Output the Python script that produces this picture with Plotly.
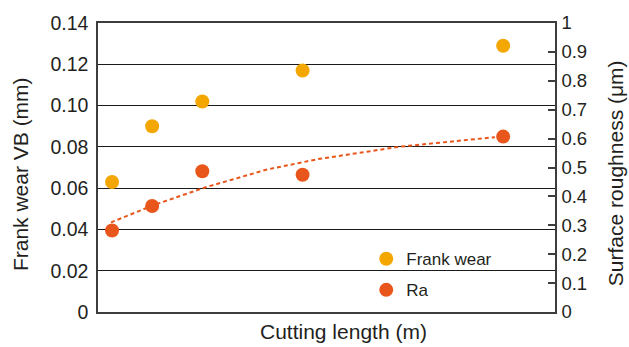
import plotly.graph_objects as go

# Data
cutting_length = [100, 500, 1000, 2000, 4000]
frank_wear = [0.063, 0.090, 0.102, 0.117, 0.129]
ra = [0.282, 0.367, 0.487, 0.475, 0.607]

trend_x = [90, 508, 1027, 1645, 2153, 2971, 3918]
trend_y = [0.310, 0.369, 0.431, 0.493, 0.529, 0.572, 0.605]

left_tickvals = [0, 0.02, 0.04, 0.06, 0.08, 0.10, 0.12, 0.14]
left_ticktext = ["0", "0.02", "0.04", "0.06", "0.08", "0.10", "0.12", "0.14"]
right_tickvals = [0, 0.1, 0.2, 0.3, 0.4, 0.5, 0.6, 0.7, 0.8, 0.9, 1]
right_ticktext = ["0", "0.1", "0.2", "0.3", "0.4", "0.5", "0.6", "0.7", "0.8", "0.9", "1"]

C_FW = "#F4A700"
C_RA = "#E9561B"
TXT = "#231F20"
FONT = "Liberation Sans, Arial, sans-serif"

fig = go.Figure()
fig.add_trace(go.Scatter(x=cutting_length, y=frank_wear, mode="markers",
                         name="Frank wear", legendgroup="a",
                         marker=dict(color=C_FW, size=14), yaxis="y"))
fig.add_trace(go.Scatter(x=trend_x, y=trend_y, mode="lines", showlegend=False,
                         line=dict(color=C_RA, width=2, dash="4px,3px", shape="linear"),
                         yaxis="y2"))
fig.add_trace(go.Scatter(x=cutting_length, y=ra, mode="markers",
                         name="Ra", legendgroup="b",
                         marker=dict(color=C_RA, size=14), yaxis="y2"))

fig.update_layout(
    width=629, height=347,
    margin=dict(l=98, r=74, t=15, b=35),
    paper_bgcolor="white", plot_bgcolor="white",
    font=dict(family=FONT, color=TXT, size=18),
    xaxis=dict(range=[-40, 4517], showticklabels=False, ticks="", showgrid=False,
               zeroline=False, showline=True, linecolor="#3d3d3d", linewidth=1.5,
               mirror=True),
    yaxis=dict(range=[0, 0.14], tickvals=left_tickvals, ticktext=left_ticktext,
               showgrid=True, gridcolor="#1a1a1a", gridwidth=1, zeroline=False,
               showline=True, linecolor="#3d3d3d", linewidth=1.5, ticks="",
               ticklabelstandoff=4, tickfont=dict(size=19.5)),
    yaxis2=dict(range=[0, 1], tickvals=right_tickvals, ticktext=right_ticktext,
                overlaying="y", side="right", showgrid=False, zeroline=False,
                showline=True, linecolor="#3d3d3d", linewidth=1.5,
                ticks="inside", ticklen=7, tickcolor="#3d3d3d", tickwidth=1.5,
                ticklabelstandoff=1, tickfont=dict(size=18.5)),
    legend=dict(x=0.587, y=0.245, xanchor="left", yanchor="top",
                bgcolor="rgba(0,0,0,0)", font=dict(size=17, color=TXT),
                tracegroupgap=6, traceorder="grouped", itemwidth=30),
    showlegend=True,
    annotations=[
        dict(text="Frank wear VB (mm)", xref="paper", yref="paper",
             x=-0.168, y=0.478, textangle=-90, showarrow=False,
             xanchor="center", yanchor="middle", font=dict(size=21)),
        dict(text="Surface roughness (μm)", xref="paper", yref="paper",
             x=1.131, y=0.48, textangle=-90, showarrow=False,
             xanchor="center", yanchor="middle", font=dict(size=21)),
        dict(text="Cutting length (m)", xref="paper", yref="paper",
             x=0.538, y=-0.067, showarrow=False,
             xanchor="center", yanchor="middle", font=dict(size=21)),
    ],
)

fig.write_html("out.html", config={"displayModeBar": False},
               post_script="document.body.style.margin='0';document.body.style.overflow='hidden';")
